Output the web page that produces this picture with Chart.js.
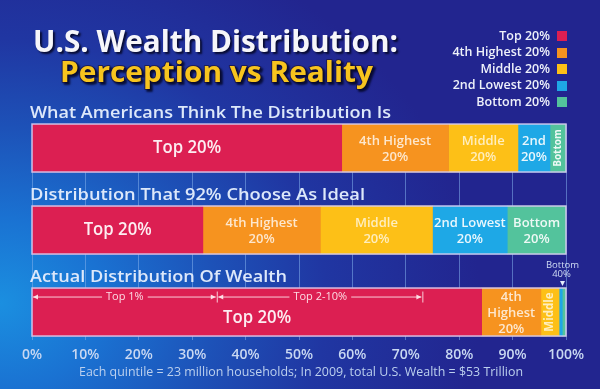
<!DOCTYPE html>
<html><head><meta charset="utf-8">
<script src="https://cdn.jsdelivr.net/npm/chart.js@4.4.1/dist/chart.umd.min.js"></script>
<style>
html,body{margin:0;padding:0;width:600px;height:389px;overflow:hidden;}
body{background:radial-gradient(ellipse 80% 100% at 0% 78%, #1b8fe0 0%, #1a72d2 22%, #1d52b8 45%, #2036a2 68%, #22258f 100%);}
canvas{display:block;}
</style></head><body>
<canvas id="c" width="600" height="389"></canvas>
<script>
// ---- data ----
const categories = ["What Americans Think The Distribution Is", "Distribution That 92% Choose As Ideal", "Actual Distribution Of Wealth"];
const quintiles = ["Top 20%", "4th Highest 20%", "Middle 20%", "2nd Lowest 20%", "Bottom 20%"];
const top20    = [58,   32, 84.2];
const fourth20 = [20,   22, 11.1];
const middle20 = [13,   21, 3.4];
const second20 = [6,    14, 0.6];
const bottom20 = [3,    11, 0.7];
const tickLabels = ["0%","10%","20%","30%","40%","50%","60%","70%","80%","90%","100%"];
const barLabels = [
  [["Top 20%"], ["4th Highest","20%"], ["Middle","20%"], ["2nd","20%"], ["Bottom"]],
  [["Top 20%"], ["4th Highest","20%"], ["Middle","20%"], ["2nd Lowest","20%"], ["Bottom","20%"]],
  [["Top 20%"], ["4th","Highest","20%"], ["Middle"], [], []]
];
const rotatedLabels = [[false,false,false,false,true],[false,false,false,false,false],[false,false,true,false,false]];
const top1Share = 34.6;
const top2to10Share = 38.5;
const titleLines = ["U.S. Wealth Distribution:", "Perception vs Reality"];
const bottom40Label = ["Bottom", "40%"];
const footnote = "Each quintile = 23 million households; In 2009, total U.S. Wealth = $53 Trillion";
const colors = ["#dc1f52", "#f6931f", "#fdc017", "#1ea8e6", "#53c39c"];

const series = [top20, fourth20, middle20, second20, bottom20];
const FF = "'Open Sans', 'Noto Sans', sans-serif";

function txt(ctx, text, x, y, o) {
  ctx.save();
  ctx.font = (o.weight || 600) + ' ' + o.size + 'px ' + FF;
  const w = ctx.measureText(text).width;
  const s = o.width ? o.width / w : (o.sx || 1);
  ctx.translate(x, y);
  if (o.rot) ctx.rotate(o.rot);
  ctx.scale(s, 1);
  ctx.textAlign = o.align || 'center';
  ctx.textBaseline = 'middle';
  if (o.shadow) {
    ctx.shadowColor = 'rgba(5,8,40,0.9)'; ctx.shadowOffsetX = 2; ctx.shadowOffsetY = 2; ctx.shadowBlur = 2;
  }
  if (o.stroke) { ctx.strokeStyle = o.stroke; ctx.lineWidth = 2; ctx.lineJoin = 'round'; ctx.strokeText(text, 0, 0); }
  ctx.fillStyle = o.color || '#fff';
  ctx.fillText(text, 0, 0);
  ctx.restore();
  return w * s;
}
function arrowHead(ctx, x, y, dir) {
  ctx.beginPath();
  ctx.moveTo(x, y); ctx.lineTo(x - dir * 5, y - 2.5); ctx.lineTo(x - dir * 5, y + 2.5); ctx.closePath(); ctx.fill();
}

const decor = {
  id: 'decor',
  afterDatasetsDraw(chart) {
    const ctx = chart.ctx, xs = chart.scales.x;
    const m0 = chart.getDatasetMeta(0).data;
    // outlines
    ctx.save();
    ctx.strokeStyle = 'rgba(215,205,240,0.9)'; ctx.lineWidth = 1.5;
    m0.forEach(b => {
      const x0 = xs.getPixelForValue(0), x1 = xs.getPixelForValue(100);
      ctx.strokeRect(x0, b.y - b.height / 2, x1 - x0, b.height);
    });
    ctx.restore();
    // section headers
    m0.forEach((b, i) => {
      txt(ctx, categories[i], xs.getPixelForValue(0) - 2, b.y - b.height / 2 - 11,
        {size: 17, weight: 600, color: '#dde8fa', align: 'left', width: [361, 335, 257][i]});
    });
    // labels inside bars
    series.forEach((s, di) => {
      const meta = chart.getDatasetMeta(di);
      meta.data.forEach((b, ri) => {
        const lines = barLabels[ri][di];
        if (!lines.length) return;
        const cx = (b.x + b.base) / 2;
        const isTop = di === 0;
        const alpha = di === 0 ? 0.92 : (di === 1 ? 0.78 : (di === 2 ? 0.72 : 0.9));
        const color = 'rgba(255,255,255,' + alpha + ')';
        if (rotatedLabels[ri][di]) {
          txt(ctx, lines[0], cx, b.y, {size: ri === 2 ? 11.5 : 10, weight: 700, color, rot: -Math.PI / 2});
          return;
        }
        const size = isTop ? 18 : 13;
        const lh = isTop ? 20 : 16;
        let cy = b.y + (isTop && ri === 2 ? 6 : 0);
        if (!isTop) cy = b.y + 1;
        lines.forEach((l, k) => {
          txt(ctx, l, cx, cy + (k - (lines.length - 1) / 2) * lh, {size, weight: 600, color, sx: isTop ? 0.93 : 1});
        });
      });
    });
    // Top 1% / Top 2-10% annotation on actual bar
    const b3 = m0[2];
    const ay = b3.y - b3.height / 2 + 8.5;
    const xA = xs.getPixelForValue(0) + 1, xB = xs.getPixelForValue(top1Share), xC = xs.getPixelForValue(top1Share + top2to10Share);
    ctx.save();
    ctx.strokeStyle = 'rgba(255,235,240,0.85)'; ctx.fillStyle = 'rgba(255,235,240,0.9)'; ctx.lineWidth = 1;
    [[xA, xB, 'Top 1%'], [xB + 1.5, xC, 'Top 2-10%']].forEach(([a, c, label]) => {
      const mid = (a + c) / 2;
      const tw = txt(ctx, label, mid, ay, {size: 11, weight: 400, color: 'rgba(255,235,240,0.92)'});
      ctx.beginPath();
      ctx.moveTo(a, ay + 0.5); ctx.lineTo(mid - tw / 2 - 4, ay + 0.5);
      ctx.moveTo(mid + tw / 2 + 4, ay + 0.5); ctx.lineTo(c - 1, ay + 0.5);
      ctx.stroke();
      arrowHead(ctx, a, ay + 0.5, -1);
      arrowHead(ctx, c - 1, ay + 0.5, 1);
    });
    [xB, xC].forEach(x => { ctx.beginPath(); ctx.moveTo(x + 0.5, ay - 5); ctx.lineTo(x + 0.5, ay + 6); ctx.stroke(); });
    ctx.restore();
    // Bottom 40% pointer
    const startB = top20[2] + fourth20[2] + middle20[2];
    const px = xs.getPixelForValue((startB + 100) / 2);
    const barTop = b3.y - b3.height / 2;
    txt(ctx, bottom40Label[0], px, barTop - 23, {size: 9.5, weight: 400, color: '#d0dcf4'});
    txt(ctx, bottom40Label[1], px - 1, barTop - 14, {size: 9.5, weight: 400, color: '#d0dcf4'});
    ctx.save(); ctx.fillStyle = '#e6eefc';
    ctx.beginPath(); ctx.moveTo(px - 2.5, barTop - 7); ctx.lineTo(px + 2.5, barTop - 7); ctx.lineTo(px, barTop - 2); ctx.closePath(); ctx.fill();
    ctx.restore();
  },
  afterDraw(chart) {
    const ctx = chart.ctx;
    // title
    txt(ctx, titleLines[0], 33, 43, {size: 30, weight: 700, color: '#f6f6fa', align: 'left', width: 365, shadow: true});
    txt(ctx, titleLines[1], 60, 74, {size: 29, weight: 700, color: '#f7c41e', align: 'left', width: 313, shadow: true, stroke: 'rgba(30,20,60,0.7)'});
    // legend
    quintiles.forEach((q, i) => {
      const y = 36 + i * 16.6;
      txt(ctx, q, 550, y, {size: 12.5, weight: 600, color: '#eef1fa', align: 'right'});
      ctx.fillStyle = colors[i];
      ctx.fillRect(557, Math.round(y - 5), 10, 10);
    });
    // footnote
    txt(ctx, footnote, 301, 372, {size: 13, weight: 400, color: '#bcd0ee', width: 444});
  }
};

new Chart(document.getElementById('c'), {
  type: 'bar',
  data: {
    datasets: quintiles.map((q, i) => ({
      label: q,
      data: series[i].map((v, k) => ({x: v, y: k})),
      backgroundColor: colors[i], borderWidth: 0, barThickness: 48
    }))
  },
  options: {
    indexAxis: 'y', responsive: false, animation: false, devicePixelRatio: 1,
    layout: {padding: {left: 32, right: 34, top: 124, bottom: 24}},
    plugins: {legend: {display: false}, tooltip: {enabled: false}, title: {display: false}},
    scales: {
      x: {
        type: 'linear', stacked: true, min: 0, max: 100,
        border: {display: false},
        grid: {display: true, drawTicks: false, color: 'rgba(130,175,235,0.55)', lineWidth: 1},
        ticks: {stepSize: 10, padding: 7, autoSkip: false, maxRotation: 0, color: '#c9d8f2',
          font: {family: FF, size: 14, weight: '600'},
          callback: (v, i) => tickLabels[i]},
        afterFit: s => { s.height = 25; }
      },
      y: {type: 'linear', stacked: true, display: false, reverse: true, offset: false, min: -0.293, max: 2.341}
    }
  },
  plugins: [decor]
});
</script>
</body></html>
